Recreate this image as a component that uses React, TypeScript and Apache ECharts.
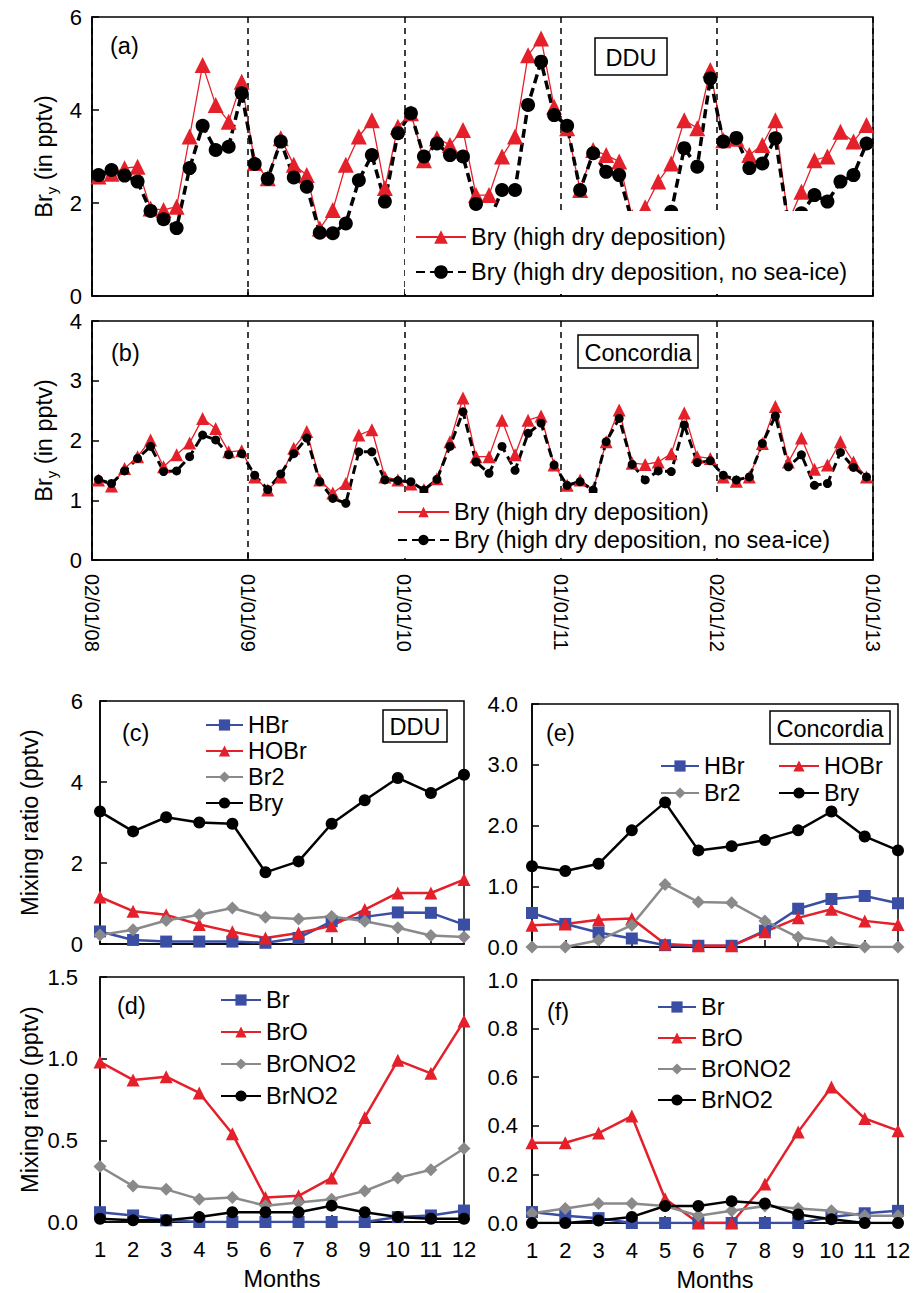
import React, { useEffect, useRef } from "react";
import * as echarts from "echarts";

// ---------- DATA ----------
const yearLabels = ["02/01/08", "01/01/09", "01/01/10", "01/01/11", "02/01/12", "01/01/13"];
const monthLabels = ["1", "2", "3", "4", "5", "6", "7", "8", "9", "10", "11", "12"];

// (a) DDU, monthly 2008-2012
const ddRed = [
  2.57, 2.63, 2.75, 2.78, 1.88, 1.85, 1.92, 3.43, 4.97, 4.11, 3.75, 4.61,
  2.86, 2.53, 3.39, 2.82, 2.6, 1.45, 1.85, 2.82, 3.43, 3.78, 2.32, 3.64,
  3.93, 2.92, 3.39, 3.25, 3.57, 2.17, 2.17, 3.0, 3.43, 5.18, 5.54, 4.07,
  3.61, 2.28, 3.14, 3.03, 2.89, 1.7, 1.91, 2.46, 2.85, 3.78, 3.61, 4.86,
  3.35, 3.38, 3.03, 3.25, 3.78, 1.6, 2.24, 2.92, 3.0, 3.53, 3.32, 3.68,
];
const ddBlack = [
  2.6, 2.71, 2.59, 2.46, 1.83, 1.65, 1.46, 2.75, 3.66, 3.14, 3.21, 4.36,
  2.84, 2.52, 3.32, 2.55, 2.35, 1.36, 1.35, 1.56, 2.49, 3.03, 2.03, 3.5,
  3.93, 3.0, 3.28, 3.03, 3.0, 1.98, 1.6, 2.28, 2.28, 4.11, 5.04, 3.89,
  3.66, 2.28, 3.07, 2.67, 2.6, 1.6, 1.55, 1.65, 1.81, 3.18, 2.78, 4.68,
  3.32, 3.4, 2.75, 2.85, 3.39, 1.55, 1.78, 2.17, 2.03, 2.46, 2.6, 3.28,
];
// (b) Concordia
const ccRed = [
  1.34, 1.24, 1.53, 1.73, 2.01, 1.56, 1.76, 1.96, 2.37, 2.2, 1.81, 1.83,
  1.39, 1.17, 1.39, 1.87, 2.15, 1.34, 1.12, 1.28, 2.09, 2.18, 1.39, 1.34,
  1.27, 1.18, 1.36, 1.98, 2.71, 1.73, 1.73, 2.34, 1.76, 2.34, 2.41, 1.59,
  1.25, 1.34, 1.17, 1.98, 2.51, 1.62, 1.6, 1.64, 1.78, 2.46, 1.73, 1.7,
  1.39, 1.32, 1.39, 1.95, 2.57, 1.64, 2.04, 1.52, 1.59, 1.98, 1.64, 1.39,
];
const ccBlack = [
  1.35, 1.28, 1.49, 1.7, 1.9, 1.48, 1.49, 1.73, 2.09, 2.01, 1.76, 1.78,
  1.42, 1.18, 1.44, 1.78, 2.04, 1.31, 1.03, 0.95, 1.81, 1.81, 1.34, 1.33,
  1.31, 1.17, 1.35, 1.9, 2.48, 1.64, 1.45, 1.9, 1.5, 2.12, 2.29, 1.59,
  1.25, 1.31, 1.17, 1.98, 2.37, 1.6, 1.34, 1.49, 1.48, 2.26, 1.63, 1.66,
  1.42, 1.34, 1.39, 1.95, 2.41, 1.56, 1.76, 1.25, 1.28, 1.8, 1.55, 1.39,
];

// (c) DDU monthly climatology
const cHBr = [0.31, 0.1, 0.06, 0.06, 0.06, 0.03, 0.15, 0.56, 0.67, 0.78, 0.77, 0.48];
const cHOBr = [1.16, 0.81, 0.72, 0.48, 0.3, 0.15, 0.27, 0.45, 0.85, 1.26, 1.26, 1.59];
const cBr2 = [0.22, 0.35, 0.58, 0.72, 0.89, 0.66, 0.62, 0.68, 0.56, 0.4, 0.21, 0.17];
const cBry = [3.27, 2.78, 3.13, 3.0, 2.97, 1.77, 2.04, 2.97, 3.55, 4.1, 3.73, 4.18];
// (d) DDU
const dBr = [0.06, 0.04, 0.01, 0.0, 0.0, 0.0, 0.0, 0.0, 0.0, 0.03, 0.04, 0.07];
const dBrO = [0.98, 0.87, 0.89, 0.79, 0.54, 0.15, 0.16, 0.27, 0.64, 0.99, 0.91, 1.23];
const dBrONO2 = [0.34, 0.22, 0.2, 0.14, 0.15, 0.1, 0.12, 0.14, 0.19, 0.27, 0.32, 0.45];
const dBrNO2 = [0.02, 0.01, 0.01, 0.03, 0.06, 0.06, 0.06, 0.1, 0.06, 0.03, 0.02, 0.02];
// (e) Concordia
const eHBr = [0.56, 0.38, 0.24, 0.14, 0.03, 0.02, 0.02, 0.27, 0.63, 0.79, 0.84, 0.72];
const eHOBr = [0.36, 0.38, 0.45, 0.47, 0.05, 0.02, 0.02, 0.25, 0.48, 0.62, 0.43, 0.37];
const eBr2 = [0.0, 0.0, 0.11, 0.36, 1.03, 0.74, 0.73, 0.43, 0.16, 0.08, 0.0, 0.0];
const eBry = [1.33, 1.25, 1.37, 1.92, 2.38, 1.59, 1.66, 1.76, 1.92, 2.23, 1.82, 1.59];
// (f) Concordia
const fBr = [0.045, 0.03, 0.02, 0.0, 0.0, 0.0, 0.0, 0.0, 0.0, 0.025, 0.04, 0.05];
const fBrO = [0.33, 0.33, 0.37, 0.44, 0.1, 0.0, 0.0, 0.16, 0.375, 0.56, 0.43, 0.38];
const fBrONO2 = [0.04, 0.06, 0.08, 0.08, 0.07, 0.03, 0.05, 0.07, 0.06, 0.05, 0.03, 0.03];
const fBrNO2 = [0.0, 0.0, 0.01, 0.025, 0.07, 0.07, 0.09, 0.08, 0.035, 0.015, 0.0, 0.0];

const NAME_HI = "Bry (high dry deposition)";
const NAME_NOICE = "Bry (high dry deposition, no sea-ice)";

// ---------- STYLE ----------
const FONT = "Liberation Sans, Arial, Helvetica, sans-serif";
const RED = "#e4202a";
const BLUE = "#3a4ea4";
const GRAY = "#8a8a8a";
const BLACK = "#000";
const FS = 22; // tick labels
const FL = 23.5; // legend, names, panel labels

const axisLineS = { show: true, lineStyle: { color: BLACK, width: 1.5 } };
const tickS = { show: true, inside: true, length: 7, lineStyle: { color: BLACK, width: 1.5 } };

function timeX(grid: number, showLabels: boolean) {
  return {
    gridIndex: grid, type: "value", min: 0, max: 60, interval: 12,
    axisLine: axisLineS, axisTick: tickS,
    axisLabel: {
      show: showLabels, rotate: -90, margin: 14, fontSize: 20, color: BLACK, fontFamily: FONT,
      formatter: (v: number) => yearLabels[Math.round(v / 12)] ?? "",
    },
    splitLine: { show: true, lineStyle: { color: BLACK, width: 1.5, type: [6, 5] } },
  };
}
function monthX(grid: number, showLabels: boolean) {
  return {
    gridIndex: grid, type: "value", min: 1, max: 12, interval: 1,
    axisLine: axisLineS, axisTick: tickS,
    axisLabel: {
      show: showLabels, margin: 16, fontSize: FS, color: BLACK, fontFamily: FONT,
      formatter: (v: number) => monthLabels[v - 1] ?? "",
    },
    splitLine: { show: false },
    name: showLabels ? "Months" : "",
    nameLocation: "middle", nameGap: 45,
    nameTextStyle: { fontSize: FL, color: BLACK, fontFamily: FONT },
  };
}
function valY(grid: number, max: number, interval: number, digits: number, margin: number, name?: any) {
  return {
    gridIndex: grid, type: "value", min: 0, max, interval,
    axisLine: axisLineS, axisTick: tickS,
    axisLabel: { fontSize: FS, color: BLACK, fontFamily: FONT, margin, formatter: (v: number) => v.toFixed(digits) },
    splitLine: { show: false },
    ...(name || {}),
  };
}

const tsData = (arr: number[]) => arr.map((v, i) => [i + 0.5, v]);
const moData = (arr: number[]) => arr.map((v, i) => [i + 1, v]);

function lineSeries(name: string, grid: number, data: number[][], symbol: string, size: number | number[], color: string, width: number, dash?: any) {
  return {
    type: "line", name, xAxisIndex: grid, yAxisIndex: grid, data,
    symbol, symbolSize: size, showSymbol: true,
    itemStyle: { color, borderWidth: 0 },
    lineStyle: { color, width, type: dash || "solid" },
    emphasis: { disabled: true },
  };
}

function legend(names: string[], left: number, top: number, gap: number, itemW: number, itemH: number, extra?: any) {
  return {
    data: names, orient: "vertical", left, top, itemGap: gap, itemWidth: itemW, itemHeight: itemH,
    padding: 0, selectedMode: false, z: 20,
    textStyle: { fontSize: FL, color: BLACK, fontFamily: FONT, lineHeight: 24 },
    ...(extra || {}),
  };
}

function label(text: string, x: number, y: number) {
  return { type: "text", x, y, z: 30, style: { text, fill: BLACK, font: `${FL}px ${FONT}`, align: "left", verticalAlign: "middle" } };
}
function boxLabel(text: string, x: number, y: number, w: number, h: number) {
  return [
    { type: "rect", z: 30, shape: { x, y, width: w, height: h }, style: { fill: "#fff", stroke: BLACK, lineWidth: 1.5 } },
    { type: "text", z: 31, x: x + w / 2, y: y + h / 2 + 1, style: { text, fill: BLACK, font: `${FL}px ${FONT}`, align: "center", verticalAlign: "middle" } },
  ];
}

const bryName = {
  name: "{n|Br}{s|y}{n| (in pptv)}",
  nameLocation: "middle", nameGap: 36,
  nameTextStyle: {
    color: BLACK, fontFamily: FONT,
    rich: {
      n: { fontSize: FL, fontFamily: FONT, color: BLACK, lineHeight: 28, verticalAlign: "bottom" },
      s: { fontSize: 15, fontFamily: FONT, color: BLACK, lineHeight: 28, verticalAlign: "bottom", padding: [0, 0, -3, 0] },
    },
  },
};
const mixName = {
  name: "Mixing ratio (pptv)", nameLocation: "middle", nameGap: 58,
  nameTextStyle: { fontSize: FL, color: BLACK, fontFamily: FONT },
};

export default function App() {
  const ref = useRef<HTMLDivElement>(null);
  useEffect(() => {
    if (!ref.current) return;
    const chart = echarts.init(ref.current, undefined, { renderer: "svg" });
    const gridS = { show: true, borderColor: BLACK, borderWidth: 1.5, backgroundColor: "transparent" };
    const option: any = {
      animation: false,
      backgroundColor: "#fff",
      textStyle: { fontFamily: FONT },
      grid: [
        { left: 92, top: 17, width: 781, height: 279, ...gridS },
        { left: 92, top: 321, width: 781, height: 239, ...gridS },
        { left: 100, top: 701, width: 364, height: 243, ...gridS },
        { left: 100, top: 977, width: 364, height: 245, ...gridS },
        { left: 532, top: 704, width: 366, height: 243, ...gridS },
        { left: 532, top: 980, width: 366, height: 243, ...gridS },
      ],
      xAxis: [timeX(0, false), timeX(1, true), monthX(2, false), monthX(3, true), monthX(4, false), monthX(5, true)],
      yAxis: [
        valY(0, 6, 2, 0, 10, bryName),
        valY(1, 4, 1, 0, 10, bryName),
        valY(2, 6, 2, 0, 17, mixName),
        valY(3, 1.5, 0.5, 1, 22, mixName),
        valY(4, 4, 1, 1, 14),
        valY(5, 1, 0.2, 1, 14),
      ],
      legend: [
        legend([NAME_HI, NAME_NOICE], 405, 211, 11, 50, 17, { padding: [14, 22, 10, 10], backgroundColor: "#fff" }),
        legend([NAME_HI, NAME_NOICE], 390, 493, 4, 51, 13, { padding: [7, 38, 6, 7], backgroundColor: "#fff" }),
        legend(["HBr", "HOBr", "Br2", "Bry"], 205, 713, 2, 37, 14),
        legend(["Br", "BrO", "BrONO2", "BrNO2"], 220, 988, 8, 40, 14),
        legend(["HBr", "Br2"], 660, 754, 3, 38, 14),
        legend(["HOBr", "Bry"], 778, 754, 3, 40, 14),
        legend(["Br", "BrO", "BrONO2", "BrNO2"], 657, 995, 7, 38, 14),
      ],
      series: [
        lineSeries(NAME_HI, 0, tsData(ddRed), "triangle", 16, RED, 1.3),
        lineSeries(NAME_NOICE, 0, tsData(ddBlack), "circle", 14, BLACK, 3.5, [9, 5]),
        lineSeries(NAME_HI, 1, tsData(ccRed), "triangle", 13, RED, 1.3),
        lineSeries(NAME_NOICE, 1, tsData(ccBlack), "circle", 9, BLACK, 3, [9, 5]),

        lineSeries("HBr", 2, moData(cHBr), "rect", 12, BLUE, 2.5),
        lineSeries("HOBr", 2, moData(cHOBr), "triangle", 13, RED, 2.5),
        lineSeries("Br2", 2, moData(cBr2), "diamond", 13, GRAY, 2.5),
        lineSeries("Bry", 2, moData(cBry), "circle", 12, BLACK, 2.5),

        lineSeries("Br", 3, moData(dBr), "rect", 12, BLUE, 2.5),
        lineSeries("BrO", 3, moData(dBrO), "triangle", 13, RED, 2.5),
        lineSeries("BrONO2", 3, moData(dBrONO2), "diamond", 13, GRAY, 2.5),
        lineSeries("BrNO2", 3, moData(dBrNO2), "circle", 12, BLACK, 2.5),

        lineSeries("HBr", 4, moData(eHBr), "rect", 12, BLUE, 2.5),
        lineSeries("HOBr", 4, moData(eHOBr), "triangle", 13, RED, 2.5),
        lineSeries("Br2", 4, moData(eBr2), "diamond", 13, GRAY, 2.5),
        lineSeries("Bry", 4, moData(eBry), "circle", 12, BLACK, 2.5),

        lineSeries("Br", 5, moData(fBr), "rect", 12, BLUE, 2.5),
        lineSeries("BrO", 5, moData(fBrO), "triangle", 13, RED, 2.5),
        lineSeries("BrONO2", 5, moData(fBrONO2), "diamond", 13, GRAY, 2.5),
        lineSeries("BrNO2", 5, moData(fBrNO2), "circle", 12, BLACK, 2.5),
      ],
      graphic: [
        label("(a)", 110, 46),
        ...boxLabel("DDU", 595, 38, 72, 37),
        label("(b)", 111, 353),
        ...boxLabel("Concordia", 578, 335, 120, 33),
        label("(c)", 122, 733),
        ...boxLabel("DDU", 383, 710, 64, 32),
        label("(d)", 117, 1006),
        label("(e)", 546, 733),
        ...boxLabel("Concordia", 770, 711, 120, 33),
        label("(f)", 547, 1012),
      ],
    };
    chart.setOption(option);
    return () => chart.dispose();
  }, []);
  return <div ref={ref} style={{ position: "absolute", left: 0, top: 0, width: 919, height: 1293 }} />;
}
